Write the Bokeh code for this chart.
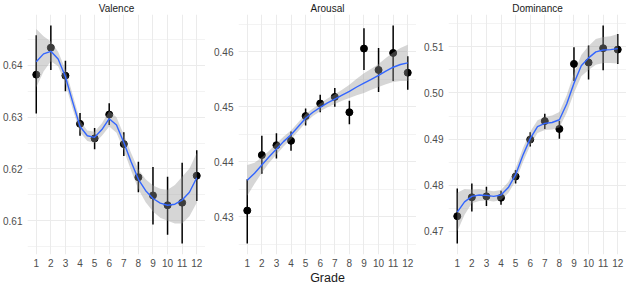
from bokeh.plotting import figure
from bokeh.layouts import row
from bokeh.models import Range1d, FixedTicker, SingleIntervalTicker, NumeralTickFormatter
from bokeh.embed import file_html
from bokeh.resources import INLINE

# ---------------- data ----------------
grades = [1, 2, 3, 4, 5, 6, 7, 8, 9, 10, 11, 12]
grade_labels = ["1", "2", "3", "4", "5", "6", "7", "8", "9", "10", "11", "12"]

valence_mean = [0.6382, 0.6434, 0.6380, 0.6287, 0.6259, 0.6305, 0.6248, 0.6184, 0.6149, 0.6130, 0.6135, 0.6187]
valence_lo = [0.6307, 0.6391, 0.6350, 0.6264, 0.6238, 0.6285, 0.6225, 0.6155, 0.6093, 0.6073, 0.6056, 0.6138]
valence_hi = [0.6458, 0.6477, 0.6409, 0.6308, 0.6279, 0.6327, 0.6271, 0.6214, 0.6204, 0.6185, 0.6212, 0.6236]

arousal_mean = [0.4311, 0.4412, 0.4430, 0.4438, 0.4483, 0.4506, 0.4518, 0.4490, 0.4606, 0.4567, 0.4598, 0.4562]
arousal_lo = [0.4251, 0.4378, 0.4406, 0.4420, 0.4466, 0.4490, 0.4500, 0.4468, 0.4567, 0.4527, 0.4547, 0.4531]
arousal_hi = [0.4368, 0.4447, 0.4452, 0.4455, 0.4497, 0.4522, 0.4534, 0.4511, 0.4643, 0.4607, 0.4648, 0.4592]

dominance_mean = [0.4733, 0.4774, 0.4776, 0.4773, 0.4819, 0.4899, 0.4939, 0.4922, 0.5063, 0.5066, 0.5097, 0.5094]
dominance_lo = [0.4674, 0.4743, 0.4755, 0.4758, 0.4804, 0.4884, 0.4922, 0.4901, 0.5026, 0.5029, 0.5049, 0.5063]
dominance_hi = [0.4793, 0.4804, 0.4797, 0.4788, 0.4833, 0.4915, 0.4955, 0.4939, 0.5099, 0.5103, 0.5146, 0.5128]

# smoothed fit (at half grades)
fit_x = [1, 1.5, 2, 2.5, 3, 3.5, 4, 4.5, 5, 5.5, 6, 6.5, 7, 7.5, 8, 8.5, 9, 9.5, 10, 10.5, 11, 11.5, 12]

valence_fit = [0.6407, 0.6422, 0.6427, 0.6412, 0.6378, 0.6329, 0.6282, 0.6264, 0.6261, 0.6276, 0.6297,
               0.6285, 0.6251, 0.6214, 0.6180, 0.6158, 0.6143, 0.6134, 0.6130, 0.6132, 0.6140, 0.6155, 0.6183]
valence_fit_lo = [0.6357, 0.6388, 0.6408, 0.6398, 0.6364, 0.6315, 0.6271, 0.6254, 0.6250, 0.6264, 0.6282,
                  0.6270, 0.6236, 0.6197, 0.6161, 0.6136, 0.6118, 0.6106, 0.6100, 0.6095, 0.6095, 0.6109, 0.6135]
valence_fit_hi = [0.6470, 0.6456, 0.6446, 0.6426, 0.6392, 0.6343, 0.6293, 0.6274, 0.6272, 0.6288, 0.6312,
                  0.6300, 0.6266, 0.6231, 0.6199, 0.6180, 0.6168, 0.6162, 0.6160, 0.6169, 0.6185, 0.6201, 0.6231]

arousal_fit = [0.4366, 0.4379, 0.4394, 0.4409, 0.4423, 0.4437, 0.4449, 0.4464, 0.4479, 0.4490, 0.4499,
               0.4507, 0.4514, 0.4521, 0.4528, 0.4536, 0.4543, 0.4550, 0.4557, 0.4565, 0.4572, 0.4577, 0.4580]
arousal_fit_lo = [0.4338, 0.4360, 0.4380, 0.4398, 0.4413, 0.4428, 0.4441, 0.4456, 0.4471, 0.4483, 0.4492,
                  0.4499, 0.4505, 0.4511, 0.4516, 0.4521, 0.4525, 0.4531, 0.4536, 0.4541, 0.4545, 0.4547, 0.4547]
arousal_fit_hi = [0.4394, 0.4398, 0.4408, 0.4420, 0.4433, 0.4446, 0.4457, 0.4472, 0.4487, 0.4497, 0.4506,
                  0.4515, 0.4523, 0.4531, 0.4540, 0.4551, 0.4561, 0.4569, 0.4578, 0.4589, 0.4599, 0.4607, 0.4613]

dominance_fit = [0.4742, 0.4764, 0.4776, 0.4779, 0.4778, 0.4776, 0.4779, 0.4795, 0.4823, 0.4865, 0.4901,
                 0.4927, 0.4934, 0.4936, 0.4942, 0.4976, 0.5021, 0.5059, 0.5076, 0.5089, 0.5093, 0.5094, 0.5096]
dominance_fit_lo = [0.4700, 0.4736, 0.4761, 0.4766, 0.4767, 0.4765, 0.4768, 0.4783, 0.4809, 0.4850, 0.4886,
                    0.4913, 0.4920, 0.4921, 0.4925, 0.4957, 0.5000, 0.5036, 0.5050, 0.5061, 0.5065, 0.5065, 0.5064]
dominance_fit_hi = [0.4784, 0.4792, 0.4791, 0.4792, 0.4789, 0.4787, 0.4790, 0.4807, 0.4837, 0.4880, 0.4916,
                    0.4941, 0.4948, 0.4951, 0.4959, 0.4995, 0.5042, 0.5082, 0.5102, 0.5117, 0.5121, 0.5123, 0.5128]

FONT = "Liberation Sans"


def make_panel(title, mean, lo, hi, fit, fit_lo, fit_hi, y0, y1, left, xlabel=None):
    p = figure(output_backend="svg", toolbar_location=None,
               frame_width=178, frame_height=240,
               min_border_left=left, min_border_right=0, min_border_top=0, min_border_bottom=0,
               x_range=Range1d(0.4, 12.6), y_range=Range1d(y0, y1),
               background_fill_color="white", border_fill_color="white")
    p.outline_line_color = None
    p.title.text = title
    p.title.align = "center"
    p.title.text_font = FONT
    p.title.text_font_size = "10px"
    p.title.text_font_style = "normal"
    p.title.text_color = "#1a1a1a"
    p.title.standoff = 1

    p.xaxis.ticker = FixedTicker(ticks=grades)
    p.xaxis.major_label_overrides = {g: s for g, s in zip(grades, grade_labels)}
    p.yaxis.ticker = SingleIntervalTicker(interval=0.01, num_minor_ticks=2)
    p.yaxis.formatter = NumeralTickFormatter(format="0.00")
    for ax in (p.xaxis, p.yaxis):
        ax.axis_line_color = None
        ax.major_tick_line_color = None
        ax.minor_tick_line_color = None
        ax.major_tick_in = 0
        ax.major_tick_out = 0
        ax.minor_tick_in = 0
        ax.minor_tick_out = 0
        ax.major_label_text_font = FONT
        ax.major_label_text_font_size = "10px"
        ax.major_label_text_color = "#4d4d4d"
    p.xaxis.major_label_standoff = 4
    p.yaxis.major_label_standoff = 5
    if xlabel:
        p.xaxis.axis_label = xlabel
        p.xaxis.axis_label_text_font = FONT
        p.xaxis.axis_label_text_font_size = "12.5px"
        p.xaxis.axis_label_text_font_style = "normal"
        p.xaxis.axis_label_text_color = "#1a1a1a"
        p.xaxis.axis_label_standoff = 1

    p.xgrid.grid_line_color = "#ebebeb"
    p.xgrid.grid_line_width = 1
    p.ygrid.grid_line_color = "#ebebeb"
    p.ygrid.grid_line_width = 1
    p.ygrid.minor_grid_line_color = "#ebebeb"
    p.ygrid.minor_grid_line_width = 0.6

    p.segment(x0=grades, y0=lo, x1=grades, y1=hi, line_color="black", line_width=1.5)
    p.scatter(x=grades, y=mean, size=7, fill_color="black", line_color="black")
    p.varea(x=fit_x, y1=fit_lo, y2=fit_hi, fill_color="#999999", fill_alpha=0.4)
    p.line(x=fit_x, y=fit, line_color="#3366ff", line_width=1.4)
    return p


p1 = make_panel("Valence", valence_mean, valence_lo, valence_hi,
                valence_fit, valence_fit_lo, valence_fit_hi, 0.6035, 0.6498, 24)
p2 = make_panel("Arousal", arousal_mean, arousal_lo, arousal_hi,
                arousal_fit, arousal_fit_lo, arousal_fit_hi, 0.4231, 0.4668, 33, xlabel="Grade")
p3 = make_panel("Dominance", dominance_mean, dominance_lo, dominance_hi,
                dominance_fit, dominance_fit_lo, dominance_fit_hi, 0.4650, 0.5170, 32)

layout = row(p1, p2, p3)
open("out.html", "w").write(file_html(layout, INLINE))
